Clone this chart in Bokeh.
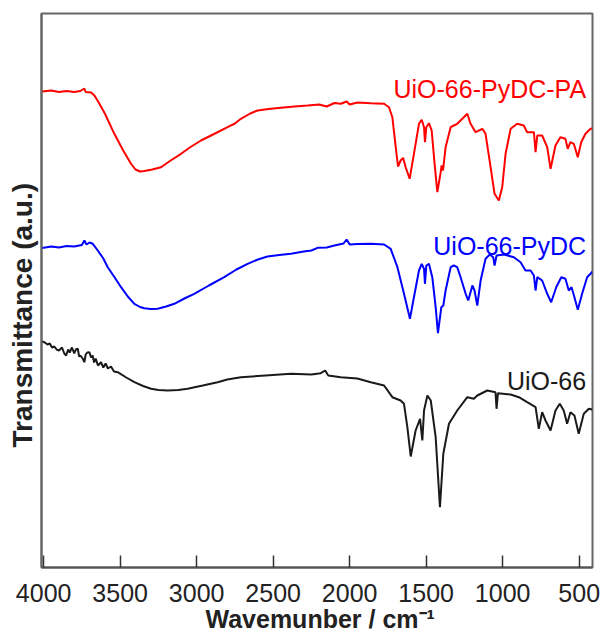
from bokeh.plotting import figure
from bokeh.models import Range1d, FixedTicker, Label, Title
from bokeh.embed import file_html
from bokeh.resources import INLINE

# ---- data; transmittance in arbitrary units ----
pa_wn = [4010, 3950, 3900, 3850, 3800, 3760, 3734, 3725, 3690, 3668, 3640, 3600, 3538, 3480, 3430,
         3400, 3370, 3342, 3290, 3233, 3170, 3102, 3040, 2972, 2880, 2798, 2750, 2711, 2650, 2602,
         2530, 2450, 2360, 2275, 2200, 2150, 2100, 2058, 2020, 2000, 1950, 1862, 1775, 1743, 1721,
         1699, 1684, 1667, 1651, 1634, 1608, 1580, 1547, 1529, 1514, 1508, 1499, 1482, 1464, 1445,
         1427, 1405, 1399, 1390, 1373, 1340, 1319, 1297, 1264, 1231, 1210, 1177, 1133, 1112, 1079,
         1053, 1025, 1003, 981, 948, 905, 862, 840, 796, 785, 774, 742, 709, 687, 655,
         623, 590, 575, 557, 535, 509, 487, 459, 426, 415]
pa_y = [91, 90, 91.5, 90.5, 91.5, 90.5, 88, 91.5, 92, 95, 102, 113, 133.3, 150, 163,
        169, 171, 170.5, 169, 166.7, 160, 153.3, 146.5, 140, 133, 126.7, 123, 118.3, 113, 110,
        108.5, 107.3, 106, 105, 104, 106, 102.5, 103.3, 101, 104, 102, 102.7, 103.3, 106.7, 116.7,
        146.7, 166, 160, 157.3, 166.7, 178.3, 153.3, 123.3, 119.3, 126.7, 141.7, 126.7, 122.7, 130, 163.3,
        191.7, 171.7, 165, 170, 146.7, 126.7, 125, 123.3, 118.3, 113.3, 123.3, 131.7, 128.3, 133.3, 166.7,
        193.3, 200, 186.7, 153.3, 128.3, 123.3, 125, 131.7, 131.7, 151.7, 135, 135, 146.7, 168.3, 145,
        136.7, 138.3, 148.3, 141.7, 143.3, 156.7, 141.7, 133.3, 128.3, 128]

py_wn = [4010, 3950, 3900, 3850, 3800, 3750, 3734, 3720, 3700, 3679, 3646, 3610, 3581, 3540, 3494,
         3450, 3407, 3370, 3342, 3300, 3255, 3200, 3146, 3080, 3016, 2920, 2820, 2740, 2667, 2600,
         2537, 2460, 2384, 2300, 2250, 2210, 2150, 2100, 2040, 2020, 2000, 1950, 1862, 1775, 1732,
         1688, 1645, 1606, 1580, 1547, 1529, 1514, 1508, 1499, 1482, 1460, 1438, 1423, 1401, 1388,
         1373, 1340, 1319, 1297, 1275, 1242, 1225, 1198, 1184, 1166, 1144, 1112, 1084, 1062, 1053,
         1040, 992, 927, 883, 851, 818, 796, 785, 774, 742, 709, 683, 650, 617, 590,
         568, 550, 531, 509, 481, 448, 426, 415]
py_y = [247.5, 246, 247, 245.5, 246, 244.5, 240, 244, 242, 243.3, 250, 258, 266.7, 276, 286.7,
        296, 303.3, 306.5, 307.7, 308.5, 308.3, 306, 303.3, 298, 293.3, 285, 276.7, 269, 263.3, 259,
        256, 254.5, 253.3, 251, 250, 247.3, 247, 245, 243, 239, 244, 243.5, 243.3, 244, 248.3,
        266.7, 293.3, 318.3, 296.7, 270, 263.3, 268.3, 283.3, 265, 263.3, 276.7, 306.7, 332.7, 306.7, 305,
        290, 266.7, 265, 266.7, 276.7, 293.3, 300, 285, 290, 305, 280, 258.3, 254, 256.7, 265,
        255, 254, 256.7, 261.7, 270, 270, 275, 290, 276.7, 280, 293.3, 301.7, 286.7, 276.7, 278.3,
        290, 286.7, 296.7, 309.3, 293.3, 276.7, 273.3, 271]

u_wn = [4010, 3995, 3975, 3960, 3945, 3930, 3915, 3900, 3880, 3865, 3853, 3840, 3830, 3815, 3800,
        3790, 3777, 3768, 3760, 3745, 3734, 3725, 3715, 3701, 3690, 3680, 3670, 3660, 3645, 3625,
        3610, 3595, 3580, 3560, 3540, 3516, 3460, 3407, 3350, 3298, 3250, 3189, 3120, 3059, 2960,
        2863, 2800, 2711, 2550, 2384, 2250, 2189, 2160, 2140, 2058, 1950, 1862, 1775, 1721, 1667,
        1645, 1623, 1601, 1569, 1540, 1525, 1514, 1492, 1470, 1438, 1410, 1388, 1351, 1297, 1231,
        1188, 1166, 1101, 1047, 1040, 1031, 948, 894, 840, 785, 764, 742, 720, 687, 655,
        627, 601, 579, 557, 531, 503, 470, 437, 415]
u_y = [341, 341.7, 344, 343, 347, 346, 349, 350, 347, 353, 355, 349, 352, 347, 353,
       349, 348.3, 356, 355, 358, 361.7, 354, 352, 351.7, 357, 355, 362, 358, 365, 361.7,
       367, 363, 368, 366, 371, 371.7, 377, 381.7, 385.5, 388.3, 389.5, 390, 389.5, 388.3, 385,
       381.7, 379, 376.7, 375, 373.3, 374, 372.7, 370, 375, 376.7, 378, 381.7, 385, 396.7, 400,
       403.3, 426.7, 456, 430, 418.3, 440, 410, 395, 400, 436.7, 506.7, 453.3, 423.3, 410, 396.7,
       398.3, 395, 390, 391.7, 408.3, 392.7, 394, 396.7, 401.7, 406.7, 428.3, 411.7, 420, 430, 410,
       403.3, 410, 423.3, 411.7, 415, 433.3, 413.3, 408.3, 409]

# convert picture depth to transmittance (a.u.)
pa_t = [567 - v for v in pa_y]
py_t = [567 - v for v in py_y]
u_t = [567 - v for v in u_y]

series = [("UiO-66-PyDC-PA", pa_wn, pa_t, "#ff0000", 479),
          ("UiO-66-PyDC", py_wn, py_t, "#0000ff", 322),
          ("UiO-66", u_wn, u_t, "#1a1a1a", 187)]
x_ticks = [4000, 3500, 3000, 2500, 2000, 1500, 1000, 500]

FONT = "Liberation Sans"

p = figure(width=600, height=634, x_range=Range1d(4014, 413), y_range=Range1d(0, 554),
           output_backend="svg", toolbar_location=None,
           min_border_left=40, min_border_right=8, min_border_top=13, min_border_bottom=67)
p.background_fill_color = "white"
p.border_fill_color = "white"
p.outline_line_color = "#666666"
p.outline_line_width = 2
p.xgrid.visible = False
p.ygrid.visible = False

for name, xs, ys, col, ly in series:
    p.line(xs, ys, line_color=col, line_width=2)
    p.add_layout(Label(x=455, y=ly, text=name, text_align="right", text_baseline="alphabetic",
                       text_font=FONT, text_font_size="25px", text_color=col))

xa = p.xaxis[0]
xa.ticker = FixedTicker(ticks=x_ticks)
xa.minor_tick_line_color = None
xa.major_tick_in = 12
xa.major_tick_out = 0
xa.major_tick_line_color = "#333333"
xa.major_tick_line_width = 1.5
xa.axis_line_color = "#555555"
xa.axis_line_width = 2
xa.major_label_text_font = FONT
xa.major_label_text_font_size = "25px"
xa.major_label_text_color = "#222222"
xa.major_label_standoff = 16

ya = p.yaxis[0]
ya.ticker = FixedTicker(ticks=[])
ya.minor_tick_line_color = None
ya.major_tick_in = 0
ya.major_tick_out = 0
ya.major_label_standoff = 0
ya.axis_line_color = "#666666"
ya.axis_line_width = 2

p.add_layout(Title(text="Wavemunber / cm\u207b\u00b9", align="left", offset=164, standoff=-4,
                   text_font=FONT, text_font_size="25px", text_font_style="bold",
                   text_color="#222222"), "below")
p.add_layout(Title(text="Transmittance (a.u.)", align="left", offset=120, standoff=8,
                   text_font=FONT, text_font_size="28px", text_font_style="bold",
                   text_color="#222222"), "left")

open("out.html", "w").write(file_html(p, INLINE))
